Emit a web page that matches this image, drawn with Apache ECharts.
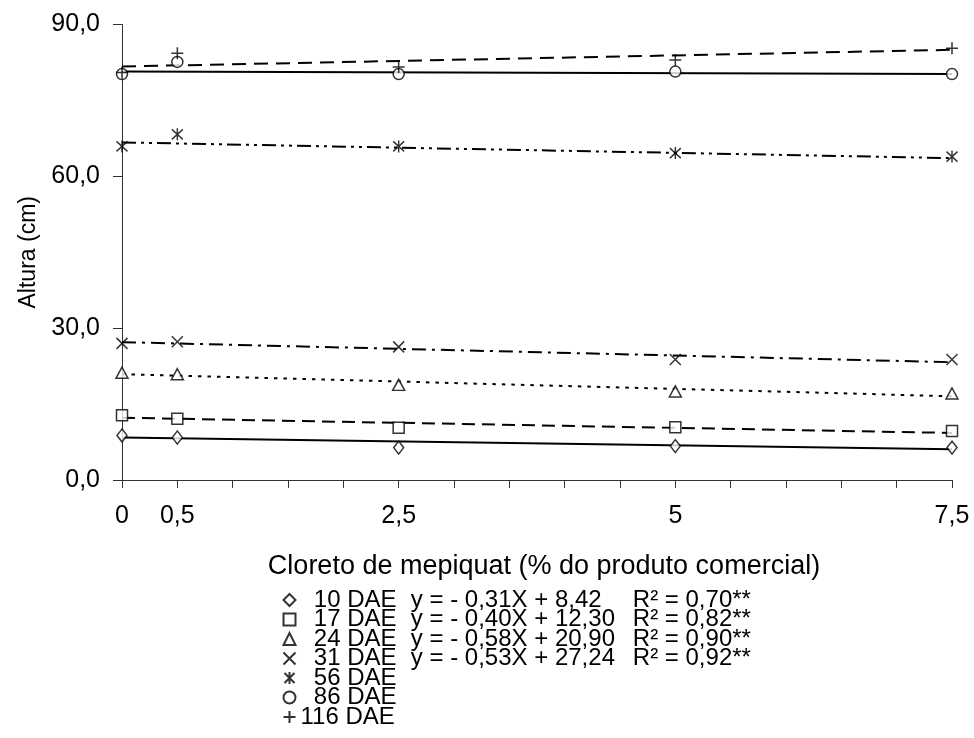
<!DOCTYPE html>
<html>
<head>
<meta charset="utf-8">
<script src="https://cdn.jsdelivr.net/npm/echarts@6/dist/echarts.min.js"></script>
<style>
  html, body { margin: 0; padding: 0; background: #fff; }
  #grafica { width: 974px; height: 738px; }
</style>
</head>
<body>
<div id="grafica"></div>
<script>
// doses (% do produto comercial)
const doses = [0, 0.5, 2.5, 5, 7.5];
const xTickLabels = [0, 0.5, 2.5, 5, 7.5];
const yTicks = [0, 30, 60, 90];

// altura observada (cm)
const dae10 = [8.8, 8.4, 6.4, 6.7, 6.4];
const dae17 = [12.8, 12.1, 10.3, 10.4, 9.7];
const dae24 = [21.2, 20.9, 18.8, 17.5, 17.1];
const dae31 = [27.0, 27.3, 26.3, 23.8, 23.8];
const dae56 = [65.9, 68.3, 65.9, 64.6, 63.9];
const dae86 = [80.2, 82.6, 80.2, 80.7, 80.2];
const dae116 = [80.5, 84.3, 81.6, 83.0, 85.3];

// linhas de tendencia: valor em x=0 e x=7,5
const trendX = [0, 7.5];
const trend10 = [8.42, 6.10];
const trend17 = [12.30, 9.30];
const trend24 = [20.90, 16.55];
const trend31 = [27.24, 23.27];
const trend56 = [66.7, 63.6];
const trend86 = [80.7, 80.2];
const trend116 = [81.7, 85.0];

const nomes = ["10 DAE", "17 DAE", "24 DAE", "31 DAE", "56 DAE", "86 DAE", "116 DAE"];
const equacoes = ["y = - 0,31X + 8,42", "y = - 0,40X + 12,30", "y = - 0,58X + 20,90", "y = - 0,53X + 27,24", "", "", ""];
const r2 = ["R² = 0,70**", "R² = 0,82**", "R² = 0,90**", "R² = 0,92**", "", "", ""];

const fonte = "'Liberation Sans', Arial, sans-serif";

const pts = (ys) => doses.map((x, i) => [x, ys[i]]);
const reta = (ys) => trendX.map((x, i) => [x, ys[i]]);

const simbolos = [
  { symbol: "diamond", size: [10, 13] },
  { symbol: "rect", size: 11 },
  { symbol: "triangle", size: [12, 11] },
  { symbol: "path://M0,0L10,10M10,0L0,10", size: 11 },
  { symbol: "path://M0,0L10,10M10,0L0,10M5,-1L5,11", size: [11, 12] },
  { symbol: "circle", size: 11 },
  { symbol: "path://M5,0L5,10M0,5L10,5", size: 12 },
];
const dados = [dae10, dae17, dae24, dae31, dae56, dae86, dae116];
const tendencias = [trend10, trend17, trend24, trend31, trend56, trend86, trend116];
const tracos = [
  "solid",
  [13, 7],
  [3.5, 6],
  [14, 6, 3, 6],
  [14, 5, 3, 5, 3, 5],
  "solid",
  [14, 8],
];

const series = [];
tendencias.forEach((t, i) => {
  series.push({
    type: "line",
    data: reta(t),
    symbol: "none",
    silent: true,
    z: 2,
    lineStyle: { color: "#000", width: 2, type: tracos[i] },
  });
});
dados.forEach((d, i) => {
  const aberto = simbolos[i].symbol.startsWith("path://");
  series.push({
    name: nomes[i],
    type: "scatter",
    data: pts(d),
    symbol: simbolos[i].symbol,
    symbolSize: simbolos[i].size,
    z: 3,
    itemStyle: {
      color: aberto ? "none" : "#fff",
      borderColor: "#000",
      borderWidth: 1.5,
    },
  });
});

const myChart = echarts.init(document.getElementById("grafica"));
myChart.setOption({
  animation: false,
  backgroundColor: "#fff",
  grid: { left: 122, right: 22, top: 24.5, bottom: 258 },
  xAxis: {
    type: "value",
    min: 0,
    max: 7.5,
    interval: 0.5,
    name: "Cloreto de mepiquat (% do produto comercial)",
    nameLocation: "middle",
    nameGap: 73,
    nameTextStyle: { fontFamily: fonte, fontSize: 27, color: "#000", padding: [0, 0, 0, 14] },
    axisLine: { lineStyle: { color: "#333", width: 1 } },
    axisTick: { length: 8, lineStyle: { color: "#333" } },
    axisLabel: {
      margin: 24,
      fontFamily: fonte,
      fontSize: 25,
      color: "#000",
      showMinLabel: true,
      showMaxLabel: true,
      formatter: (v) => (xTickLabels.includes(v) ? String(v).replace(".", ",") : ""),
    },
    splitLine: { show: false },
  },
  yAxis: {
    type: "value",
    min: yTicks[0],
    max: yTicks[yTicks.length - 1],
    interval: 30,
    name: "Altura (cm)",
    nameLocation: "middle",
    nameGap: 80,
    nameTextStyle: { fontFamily: fonte, fontSize: 23, color: "#000" },
    axisLine: { show: true, lineStyle: { color: "#333", width: 1 } },
    axisTick: { show: true, length: 9, lineStyle: { color: "#333" } },
    axisLabel: {
      margin: 22,
      fontFamily: fonte,
      fontSize: 25,
      color: "#000",
      formatter: (v) => v.toFixed(1).replace(".", ","),
    },
    splitLine: { show: false },
  },
  legend: {
    orient: "vertical",
    left: 281,
    top: 588,
    itemWidth: 12,
    itemHeight: 12,
    itemGap: -4.5,
    padding: 0,
    data: nomes,
    textStyle: {
      fontFamily: fonte,
      fontSize: 24,
      color: "#000",
      rich: {
        n: { fontFamily: fonte, fontSize: 24, width: 97, align: "left" },
        e: { fontFamily: fonte, fontSize: 24, width: 222, align: "left" },
        r: { fontFamily: fonte, fontSize: 24, align: "left" },
      },
    },
    formatter: (name) => {
      const i = nomes.indexOf(name);
      const rotulo = name.length < 7 ? "  " + name : name;
      if (!equacoes[i]) return "{n|" + rotulo + "}";
      return "{n|" + rotulo + "}{e|  " + equacoes[i] + "}{r|  " + r2[i] + "}";
    },
  },
  series: series,
});
</script>
</body>
</html>
